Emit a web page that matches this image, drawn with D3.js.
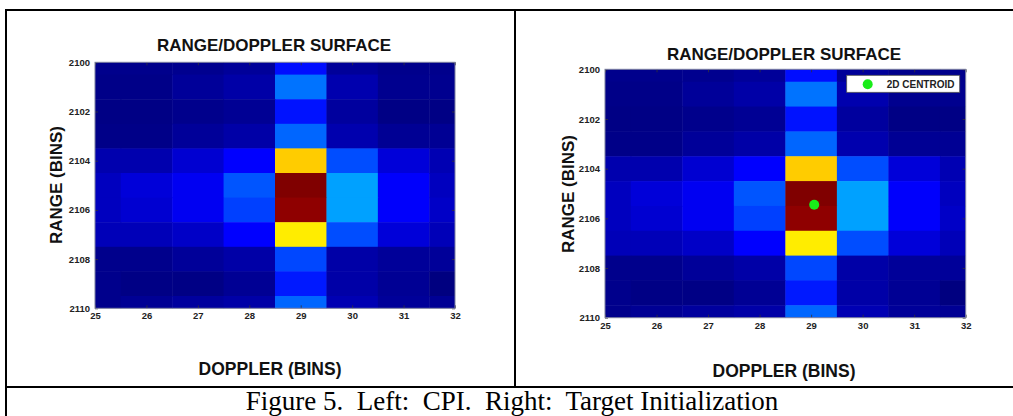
<!DOCTYPE html>
<html>
<head>
  <meta charset="utf-8">
  <title>Range/Doppler surface</title>
  <script src="https://cdn.jsdelivr.net/npm/d3@7"></script>
  <style>
    html, body { margin: 0; padding: 0; background: #fff; }
    svg { display: block; }
    .tick-label { font-family: "Liberation Sans", Arial, sans-serif; font-size: 9.5px; font-weight: bold; fill: #222; }
    .title, .axis-title { font-family: "Liberation Sans", Arial, sans-serif; font-weight: bold; fill: #111; }
  </style>
</head>
<body>
<svg id="fig" width="1013" height="416"></svg>
<script>
// doppler bins (columns) and range bins (rows)
var dopplerBins = [25, 26, 27, 28, 29, 30, 31, 32];
var rangeBins = [2100, 2101, 2102, 2103, 2104, 2105, 2106, 2107, 2108, 2109, 2110];

// normalised magnitude, one row per range bin, one column per doppler bin
var surface = [
  [0.012, 0.012, 0.015, 0.025, 0.138, 0.025, 0.012, 0.012],
  [0.008, 0.008, 0.025, 0.038, 0.238, 0.045, 0.015, 0.015],
  [0.005, 0.005, 0.012, 0.020, 0.143, 0.030, 0.005, 0.005],
  [0.008, 0.008, 0.025, 0.038, 0.225, 0.045, 0.020, 0.020],
  [0.045, 0.045, 0.080, 0.125, 0.675, 0.200, 0.088, 0.050],
  [0.062, 0.088, 0.112, 0.208, 1.000, 0.283, 0.122, 0.062],
  [0.062, 0.080, 0.112, 0.188, 0.985, 0.283, 0.122, 0.070],
  [0.055, 0.055, 0.070, 0.125, 0.643, 0.200, 0.088, 0.055],
  [0.012, 0.012, 0.025, 0.038, 0.195, 0.038, 0.025, 0.025],
  [0.012, 0.005, 0.005, 0.020, 0.150, 0.038, 0.020, 0.000],
  [0.012, 0.020, 0.030, 0.038, 0.225, 0.050, 0.025, 0.020]
];

// 2D centroid [doppler, range]
var centroid = [29.06, 2105.45];

var xTicks = [25, 26, 27, 28, 29, 30, 31, 32];
var yTicks = [2100, 2102, 2104, 2106, 2108, 2110];

var caption = "Figure 5.  Left:  CPI.  Right:  Target Initialization";

// jet colormap
var jet = d3.scaleLinear()
  .domain([0, 0.125, 0.375, 0.625, 0.875, 1])
  .range(["#000080", "#0000ff", "#00ffff", "#ffff00", "#ff0000", "#800000"])
  .clamp(true);

var svg = d3.select("#fig");

// flatten the matrix into cells
var cells = [];
surface.forEach(function (row, i) {
  row.forEach(function (v, j) {
    cells.push({ r: rangeBins[i], d: dopplerBins[j], v: v });
  });
});

function drawPanel(id, box, showCentroid) {
  var g = svg.append("g");
  var x = d3.scaleLinear().domain([25, 32]).range([box.left, box.right]);
  var y = d3.scaleLinear().domain([2100, 2110]).range([box.top, box.bottom]);

  svg.append("clipPath").attr("id", id)
    .append("rect")
    .attr("x", box.left).attr("y", box.top)
    .attr("width", box.right - box.left).attr("height", box.bottom - box.top);

  g.append("g").attr("clip-path", "url(#" + id + ")")
    .selectAll("rect")
    .data(cells)
    .join("rect")
    .attr("x", d => x(d.d - 0.5))
    .attr("y", d => y(d.r - 0.5))
    .attr("width", x(26) - x(25) + 0.5)
    .attr("height", y(2101) - y(2100) + 0.5)
    .attr("fill", d => jet(d.v));

  // axes: ticks inside, on both sides (matlab box)
  var xb = g.append("g").attr("transform", "translate(0," + box.bottom + ")")
    .call(d3.axisBottom(x).tickValues(xTicks).tickSize(-3).tickPadding(8).tickFormat(d3.format("d")));
  var xt = g.append("g").attr("transform", "translate(0," + box.top + ")")
    .call(d3.axisTop(x).tickValues(xTicks).tickSize(-3).tickFormat(""));
  var yl = g.append("g").attr("transform", "translate(" + box.left + ",0)")
    .call(d3.axisLeft(y).tickValues(yTicks).tickSize(-3).tickPadding(5).tickFormat(d3.format("d")));
  var yr = g.append("g").attr("transform", "translate(" + box.right + ",0)")
    .call(d3.axisRight(y).tickValues(yTicks).tickSize(-3).tickFormat(""));

  [xb, xt, yl, yr].forEach(function (a) {
    a.select(".domain").remove();
    a.selectAll(".tick line").attr("stroke", "#333").attr("stroke-width", 0.8);
    a.selectAll(".tick text").attr("class", "tick-label").attr("fill", null);
  });
  xb.selectAll(".tick text").attr("dy", "0.3em");

  g.append("rect")
    .attr("x", box.left).attr("y", box.top)
    .attr("width", box.right - box.left).attr("height", box.bottom - box.top)
    .attr("fill", "none").attr("stroke", "#7c80a0").attr("stroke-width", 1);

  g.append("text").attr("class", "title")
    .attr("x", box.titleX).attr("y", box.titleY)
    .attr("text-anchor", "middle").attr("font-size", 17)
    .text("RANGE/DOPPLER SURFACE");

  g.append("text").attr("class", "axis-title")
    .attr("transform", "translate(" + box.yLabelX + "," + box.yLabelY + ") rotate(-90)")
    .attr("text-anchor", "middle").attr("font-size", 17)
    .text("RANGE (BINS)");

  g.append("text").attr("class", "axis-title")
    .attr("x", box.xLabelX).attr("y", box.xLabelY)
    .attr("text-anchor", "middle").attr("font-size", 17.5)
    .text("DOPPLER (BINS)");

  if (showCentroid) {
    g.append("circle")
      .attr("cx", x(centroid[0])).attr("cy", y(centroid[1])).attr("r", 5)
      .attr("fill", "#19ec19");

    var lg = g.append("g");
    lg.append("rect")
      .attr("x", box.right - 119).attr("y", box.top + 6)
      .attr("width", 113).attr("height", 17)
      .attr("fill", "#fff").attr("stroke", "#555").attr("stroke-width", 0.8);
    lg.append("circle")
      .attr("cx", box.right - 98).attr("cy", box.top + 15).attr("r", 5)
      .attr("fill", "#19ec19");
    lg.append("text").attr("class", "tick-label")
      .attr("x", box.right - 79).attr("y", box.top + 18.5)
      .style("font-size", "10px")
      .text("2D CENTROID");
  }
}

drawPanel("clipL", {
  left: 95, right: 455, top: 62.3, bottom: 308.3,
  titleX: 274, titleY: 51, yLabelX: 62, yLabelY: 185,
  xLabelX: 270, xLabelY: 375
}, false);

drawPanel("clipR", {
  left: 605, right: 965.7, top: 69.3, bottom: 317.7,
  titleX: 784, titleY: 60, yLabelX: 573.5, yLabelY: 194,
  xLabelX: 784, xLabelY: 377
}, true);

// table frame
var frame = svg.append("g").attr("stroke", "#000").attr("stroke-width", 2);
frame.append("line").attr("x1", 5).attr("x2", 1013).attr("y1", 10).attr("y2", 10);
frame.append("line").attr("x1", 6).attr("x2", 6).attr("y1", 9).attr("y2", 416);
frame.append("line").attr("x1", 515).attr("x2", 515).attr("y1", 10).attr("y2", 387);
frame.append("line").attr("x1", 5).attr("x2", 1013).attr("y1", 387).attr("y2", 387);

svg.append("text")
  .attr("x", 512).attr("y", 410)
  .attr("text-anchor", "middle")
  .attr("font-family", "'Liberation Serif', 'Times New Roman', serif")
  .attr("font-size", 27)
  .style("white-space", "pre")
  .text(caption);
</script>
</body>
</html>
